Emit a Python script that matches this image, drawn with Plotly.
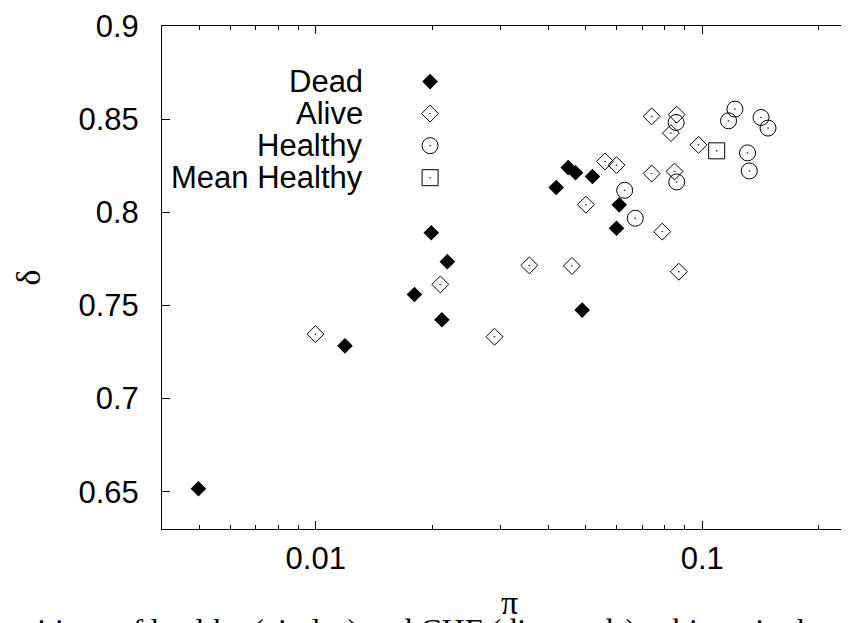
import plotly.graph_objects as go

# ---- data ----
dead_pi = [0.00497, 0.0119, 0.0180, 0.0199, 0.0212, 0.0219, 0.0419, 0.0450, 0.0470, 0.0489, 0.0520, 0.0600, 0.0610]
dead_delta = [0.6516, 0.7283, 0.7559, 0.7890, 0.7423, 0.7735, 0.8133, 0.8240, 0.8212, 0.7475, 0.8192, 0.7914, 0.8040]

alive_pi = [0.00998, 0.0210, 0.0290, 0.0357, 0.0460, 0.0500, 0.0560, 0.0600, 0.0740, 0.0740,
            0.0788, 0.0830, 0.0848, 0.0859, 0.0870, 0.0978]
alive_delta = [0.7346, 0.7613, 0.7332, 0.7715, 0.7712, 0.8041, 0.8273, 0.8253, 0.8515, 0.8208,
               0.7896, 0.8425, 0.8219, 0.8524, 0.7681, 0.8362]

healthy_pi = [0.0630, 0.0671, 0.0856, 0.0859, 0.1170, 0.1215, 0.1310, 0.1324, 0.1420, 0.1480]
healthy_delta = [0.8118, 0.7968, 0.8482, 0.8163, 0.8491, 0.8554, 0.8319, 0.8222, 0.8509, 0.8452]

mean_pi = [0.109]
mean_delta = [0.833]

legend_names = ["Dead", "Alive", "Healthy", "Mean Healthy"]
legend_symbols = ["diamond", "diamond-open-dot", "circle-open-dot", "square-open-dot"]
legend_sizes = [12, 13, 16, 16]
legend_rows = [0.8895, 0.8258, 0.7621, 0.6984]

x_major = [0.01, 0.1]
x_major_text = ["0.01", "0.1"]
x_minor = [0.005, 0.006, 0.007, 0.008, 0.009, 0.02, 0.03, 0.04, 0.05, 0.06, 0.07, 0.08, 0.09, 0.2]
y_ticks = [0.65, 0.7, 0.75, 0.8, 0.85, 0.9]
y_ticktext = ["0.65", "0.7", "0.75", "0.8", "0.85", "0.9"]

SANS = "Liberation Sans, Arial, sans-serif"
SERIF = "Liberation Serif, Times New Roman, serif"

fig = go.Figure()
fig.add_trace(go.Scatter(x=dead_pi, y=dead_delta, mode="markers", showlegend=False,
                         marker=dict(symbol="diamond", size=12, color="black", line=dict(width=0))))
fig.add_trace(go.Scatter(x=alive_pi, y=alive_delta, mode="markers", showlegend=False,
                         marker=dict(symbol="diamond-open-dot", size=13, color="black",
                                     line=dict(width=1, color="black"))))
fig.add_trace(go.Scatter(x=healthy_pi, y=healthy_delta, mode="markers", showlegend=False,
                         marker=dict(symbol="circle-open-dot", size=16, color="black",
                                     line=dict(width=1, color="black"))))
fig.add_trace(go.Scatter(x=mean_pi, y=mean_delta, mode="markers", showlegend=False,
                         marker=dict(symbol="square-open-dot", size=16, color="black",
                                     line=dict(width=1, color="black"))))

# hand-built legend (text left of symbol, as in the reference)
legend_x = 0.3863
for sym, sz, yy in zip(legend_symbols, legend_sizes, legend_rows):
    fig.add_trace(go.Scatter(x=[legend_x], y=[yy], mode="markers",
                             xaxis="x2", yaxis="y2", showlegend=False, hoverinfo="skip",
                             marker=dict(symbol=sym, size=sz, color="black",
                                         line=dict(width=0 if sym == "diamond" else 1, color="black"))))

annotations = []
for name, yy in zip(legend_names, legend_rows):
    annotations.append(dict(x=0.2926, y=yy, xref="paper", yref="paper", text=name,
                            xanchor="right", yanchor="middle", showarrow=False,
                            font=dict(family=SANS, size=31, color="black")))

# axis titles
annotations.append(dict(x=0.5, y=-0.146, xref="paper", yref="paper", text="π",
                        xanchor="center", yanchor="middle", showarrow=False,
                        font=dict(family=SERIF, size=34, color="black")))
annotations.append(dict(x=-0.193, y=0.5, xref="paper", yref="paper", text="δ", textangle=-90,
                        xanchor="center", yanchor="middle", showarrow=False,
                        font=dict(family=SERIF, size=34, color="black")))
# cut-off caption line at the bottom of the page
annotations.append(dict(x=-0.25, y=-0.161, xref="paper", yref="paper",
                        text="Positions of healthy (circles) and CHF (diamonds) subjects in the phase plane",
                        xanchor="left", yanchor="top", showarrow=False,
                        font=dict(family=SERIF, size=32, color="black")))

fig.update_layout(
    width=849, height=623,
    margin=dict(l=154, r=1, t=18, b=102),
    paper_bgcolor="white", plot_bgcolor="white",
    showlegend=False,
    annotations=annotations,
    xaxis=dict(type="log", range=[-2.39794, -0.60206],
               tickmode="array", tickvals=x_major, ticktext=x_major_text,
               ticks="inside", ticklen=8, tickwidth=1, tickcolor="black",
               minor=dict(tickmode="array", tickvals=x_minor, ticks="inside", ticklen=4,
                          tickwidth=1, tickcolor="black", showgrid=False),
               showline=True, linecolor="black", linewidth=1, mirror="ticks",
               showgrid=False, zeroline=False, ticklabelstandoff=2,
               tickfont=dict(family=SANS, size=31, color="black")),
    yaxis=dict(range=[0.63, 0.9], tickmode="array", tickvals=y_ticks, ticktext=y_ticktext,
               ticks="inside", ticklen=8, tickwidth=1, tickcolor="black",
               showline=True, linecolor="black", linewidth=1, mirror="ticks",
               showgrid=False, zeroline=False, ticklabelstandoff=16,
               tickfont=dict(family=SANS, size=31, color="black")),
    xaxis2=dict(overlaying="x", range=[0, 1], visible=False, fixedrange=True),
    yaxis2=dict(overlaying="y", range=[0, 1], visible=False, fixedrange=True),
)

fig.write_html("out.html")
